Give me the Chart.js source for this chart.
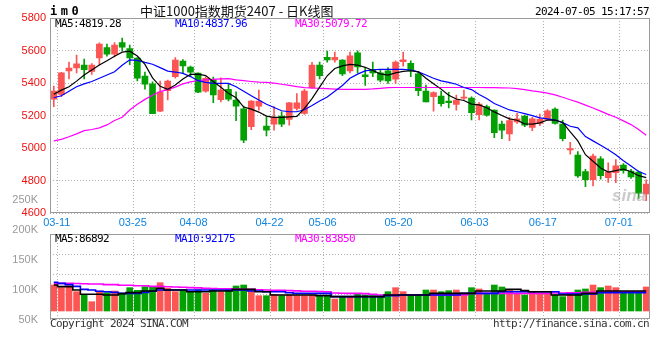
<!DOCTYPE html>
<html><head><meta charset="utf-8">
<script src="https://cdn.jsdelivr.net/npm/chart.js@4.4.1/dist/chart.umd.min.js"></script>
<style>
html,body{margin:0;padding:0;background:#fff;}
#wrap{position:relative;width:660px;height:360px;overflow:hidden;background:#fff;}
canvas{position:absolute;left:0;}
.t{position:absolute;white-space:nowrap;font-family:"DejaVu Sans Mono",monospace;font-size:11px;line-height:12px;letter-spacing:-0.62px;color:#000;}
</style></head><body>
<div id="wrap">
<canvas id="main" width="660" height="232" style="top:0;width:660px;height:232px"></canvas>
<canvas id="vol" width="660" height="150" style="top:190px;width:660px;height:150px"></canvas>
<div class="t" style="left:50px;top:4px;font:bold 12px/14px 'DejaVu Sans Mono',monospace;letter-spacing:3.5px">im0</div>
<div class="t" style="left:140px;top:3px;font:13px/16px 'Noto Sans CJK SC',sans-serif;letter-spacing:0;color:#111">中证1000指数期货2407 - 日K线图</div>
<div class="t" style="right:11px;top:6px">2024-07-05 15:17:57</div>
<div class="t" style="left:55px;top:18px;color:#000">MA5:4819.28</div>
<div class="t" style="left:175px;top:18px;color:#0000ff">MA10:4837.96</div>
<div class="t" style="left:295px;top:18px;color:#ff00ff">MA30:5079.72</div>
<div class="t" style="left:55px;top:233px;color:#000">MA5:86892</div>
<div class="t" style="left:175px;top:233px;color:#0000ff">MA10:92175</div>
<div class="t" style="left:295px;top:233px;color:#ff00ff">MA30:83850</div>
<div class="t" style="left:50px;top:318px;color:#333">Copyright 2024 SINA.COM</div>
<div class="t" style="right:11px;top:318px;color:#333">http://finance.sina.com.cn</div>
<div class="t" style="left:612px;top:187px;font:italic bold 17px/18px 'Liberation Sans',sans-serif;letter-spacing:0;color:rgba(150,150,150,0.5)">sina</div>
</div>
<script>
// ---- data ----
const dates = ['03-11','03-12','03-13','03-14','03-15','03-18','03-19','03-20','03-21','03-22',
'03-25','03-26','03-27','03-28','03-29','04-01','04-02','04-03','04-08','04-09',
'04-10','04-11','04-12','04-15','04-16','04-17','04-18','04-19','04-22','04-23',
'04-24','04-25','04-26','04-29','04-30','05-06','05-07','05-08','05-09','05-10',
'05-13','05-14','05-15','05-16','05-17','05-20','05-21','05-22','05-23','05-24',
'05-27','05-28','05-29','05-30','05-31','06-03','06-04','06-05','06-06','06-07',
'06-11','06-12','06-13','06-14','06-17','06-18','06-19','06-20','06-21','06-24',
'06-25','06-26','06-27','06-28','07-01','07-02','07-03','07-04','07-05'];
const tickDates = ['03-11','03-25','04-08','04-22','05-06','05-20','06-03','06-17','07-01'];
const priceTicks = [4600,4800,5000,5200,5400,5600,5800];
const volTicks = [50000,100000,150000,200000,250000];

const opens = [5302,5330,5475,5494,5510,5471,5555,5619,5578,5649,
5612,5553,5443,5396,5228,5353,5439,5535,5498,5461,
5351,5422,5298,5361,5295,5242,5132,5259,5136,5148,
5197,5177,5244,5214,5371,5510,5559,5543,5541,5475,
5586,5451,5484,5463,5475,5424,5531,5522,5457,5351,
5316,5320,5289,5269,5308,5308,5206,5255,5234,5148,
5087,5161,5197,5128,5152,5177,5240,5148,4989,4958,
4856,4807,4934,4819,4850,4897,4860,4854,4719];
const highs = [5381,5466,5529,5572,5547,5520,5647,5639,5649,5676,
5633,5557,5467,5408,5412,5418,5557,5545,5504,5463,
5439,5437,5433,5394,5347,5259,5293,5357,5193,5255,
5224,5282,5336,5361,5527,5529,5596,5590,5545,5590,
5598,5490,5529,5480,5496,5537,5590,5537,5469,5388,
5347,5351,5343,5326,5357,5316,5281,5265,5236,5167,
5189,5214,5203,5189,5210,5238,5248,5173,5036,4979,
4870,4964,4948,4910,4930,4905,4870,4860,4805];
const lows = [5255,5316,5426,5463,5426,5453,5512,5565,5561,5598,
5514,5414,5363,5212,5224,5296,5430,5459,5439,5341,
5345,5279,5285,5291,5169,5034,5114,5234,5075,5111,
5132,5142,5234,5208,5367,5426,5529,5529,5445,5463,
5463,5385,5439,5408,5398,5398,5504,5439,5322,5285,
5228,5259,5248,5234,5300,5173,5173,5197,5064,5058,
5046,5152,5132,5107,5138,5173,5148,5044,4964,4821,
4764,4768,4809,4790,4788,4846,4815,4692,4678];
const closes = [5351,5463,5492,5518,5482,5510,5639,5578,5633,5621,
5555,5430,5394,5212,5345,5412,5541,5506,5467,5345,
5430,5328,5357,5302,5259,5050,5289,5289,5111,5189,
5148,5279,5279,5351,5510,5445,5543,5559,5457,5567,
5500,5439,5463,5418,5414,5529,5543,5475,5353,5285,
5341,5273,5279,5295,5314,5218,5271,5203,5095,5111,
5169,5181,5142,5181,5179,5230,5152,5058,4997,4829,
4807,4952,4831,4854,4891,4862,4823,4723,4780];

const ma5 = [5332,5357,5378,5412,5450,5480,5511,5537,5565,5590,
5596,5566,5515,5432,5380,5362,5388,5425,5454,5455,
5446,5410,5375,5337,5310,5253,5240,5222,5197,5190,
5190,5193,5196,5245,5305,5375,5445,5490,5506,5515,
5511,5497,5477,5457,5449,5463,5472,5476,5469,5430,
5396,5363,5325,5302,5293,5271,5266,5249,5223,5201,
5180,5172,5150,5148,5156,5173,5173,5158,5100,5045,
4960,4920,4878,4853,4862,4872,4855,4831,4819];
const ma10 = [5310,5322,5350,5378,5395,5410,5430,5450,5470,5510,
5543,5540,5527,5516,5495,5474,5468,5460,5440,5415,
5405,5398,5398,5398,5378,5350,5322,5296,5270,5250,
5230,5224,5224,5236,5262,5290,5315,5350,5385,5430,
5455,5475,5482,5484,5484,5484,5484,5480,5469,5450,
5430,5414,5404,5393,5373,5360,5330,5305,5275,5255,
5235,5224,5212,5200,5186,5180,5173,5157,5135,5125,
5071,5045,5018,4990,4960,4923,4890,4857,4838];
const ma30 = [5045,5054,5070,5088,5108,5115,5125,5143,5170,5190,
5235,5270,5300,5325,5348,5360,5375,5395,5408,5416,
5420,5423,5426,5428,5420,5415,5410,5406,5404,5400,
5393,5386,5378,5372,5370,5368,5366,5363,5361,5361,
5361,5362,5364,5368,5372,5373,5373,5373,5373,5373,
5373,5373,5373,5373,5373,5373,5373,5372,5372,5371,
5370,5366,5360,5352,5346,5338,5328,5313,5298,5283,
5265,5247,5228,5208,5190,5168,5145,5115,5080];

const volumes = [108300,103900,106700,97200,91700,80500,98300,95500,98300,94500,
103900,99500,105500,105500,112200,102800,97200,100000,97200,100000,
94500,100000,97200,100000,106700,108300,101200,90500,90500,92800,
90500,91700,90500,90500,91700,90500,90500,85000,88900,88900,
94400,91700,90600,90000,97200,103900,97200,91700,91700,100000,
100000,97200,98900,100000,94400,103900,101700,93300,108300,105000,
101100,93300,91700,97200,93300,93300,91700,88900,94400,100000,
101700,108300,103900,106700,103900,97200,97200,97200,105000];
const volMa5 = [108300,105600,105600,100000,93000,92800,92800,91700,91700,94000,
95600,95600,98300,98300,102800,100000,100000,100000,97200,97200,
97200,98300,98300,98300,101000,101000,101000,97200,97200,91700,
91700,91700,91700,91700,91700,90600,90600,88900,88900,88900,
88900,88900,88900,88900,91700,91700,91700,91700,91700,91700,
94400,94400,94400,94400,94400,94400,98300,98300,98300,98300,
101000,101000,99000,97200,97200,97200,91700,91700,91700,91700,
94400,94400,98300,98300,98300,98300,98300,98300,98300];
const volMa10 = [113000,111000,109000,106000,101000,100000,98000,97000,96000,94400,
94400,94400,96000,98000,100000,100000,100000,100000,100000,100000,
100000,100000,100000,100000,100000,100000,98300,98300,97200,97200,
97200,95500,94400,94400,94400,94400,94400,88900,88900,88900,
88900,88900,88900,88900,90600,90600,91700,91700,91700,91700,
91700,91700,91700,91700,94400,94400,94400,94400,94400,97200,
97200,97200,97200,97200,97200,97200,97200,93300,93300,93300,
93300,93300,95600,95600,95600,95600,95600,95600,95600];
const volMa30 = [111000,111000,111000,110800,110500,110000,110000,109000,109000,108000,
108000,107000,107000,106000,106000,105500,105000,104500,104000,103500,
103000,102500,102000,102000,101500,101000,101000,100500,100000,99500,
99500,99000,98500,98000,98000,97500,97000,95000,94500,94400,
94400,94000,93000,91700,91700,91700,91700,91700,91700,91700,
91700,91700,91700,91700,91700,94400,94400,94400,94400,94400,
94400,94400,94400,94400,94400,94400,95000,95000,95500,95500,
96000,96000,96000,96500,96500,97000,97000,97000,97000];

// ---- styles ----
const UP = '#fd5454', DOWN = '#03a003';
const GRID = '#b0b0b0', FRAME = '#9a9a9a';
const candleColors = closes.map((c, i) => c >= opens[i] ? UP : DOWN);
const tickSet = new Set(tickDates);
const xGridColor = ctx => (ctx.index >= 1 && tickSet.has(dates[ctx.index - 1])) ? GRID : 'rgba(0,0,0,0)';
const labelFont = {family: "'Liberation Sans', Arial, sans-serif", size: 11};

const framePlugin = {
  id: 'frame',
  afterDatasetsDraw(chart) {
    const {ctx, chartArea: a} = chart;
    ctx.save();
    ctx.strokeStyle = FRAME; ctx.lineWidth = 1;
    ctx.strokeRect(Math.round(a.left) + 0.5, Math.round(a.top) + 0.5,
      Math.round(a.right - a.left) - 1, Math.round(a.bottom - a.top) - 1);
    ctx.restore();
  }
};

const lineDs = (label, data, color, extra) => Object.assign({
  type: 'line', label, data, borderColor: color, backgroundColor: color,
  borderWidth: 1.2, pointRadius: 0, tension: 0, fill: false
}, extra || {});

new Chart(document.getElementById('main'), {
  type: 'bar',
  data: {
    labels: dates,
    datasets: [
      lineDs('MA5', ma5, '#000000'),
      lineDs('MA10', ma10, '#0000ff'),
      lineDs('MA30', ma30, '#ff00ff'),
      {label: 'body', data: opens.map((o, i) => [o, closes[i]]), backgroundColor: candleColors,
       barThickness: 6, grouped: false, minBarLength: 1},
      {label: 'wick', data: lows.map((l, i) => [l, highs[i]]), backgroundColor: candleColors,
       barThickness: 1, grouped: false}
    ]
  },
  options: {
    responsive: false, animation: false, devicePixelRatio: 1,
    layout: {padding: {top: 18, right: 10, left: 0, bottom: 0}},
    plugins: {legend: {display: false}, tooltip: {enabled: false}},
    scales: {
      x: {
        offset: true,
        grid: {offset: true, color: xGridColor, drawTicks: false, lineWidth: 1},
        border: {display: false, dash: [1, 2]},
        ticks: {autoSkip: false, maxRotation: 0, minRotation: 0, padding: 3, labelOffset: 3,
          color: '#0f84e0', font: labelFont,
          callback: (v, i) => tickSet.has(dates[i]) ? dates[i] : ''},
        afterFit: s => { s.height = 18.7; }
      },
      y: {
        min: 4600, max: 5800,
        afterBuildTicks: s => { s.ticks = priceTicks.map(v => ({value: v})); },
        grid: {color: GRID, drawTicks: false},
        border: {display: false, dash: [1, 2]},
        ticks: {autoSkip: false, color: '#ee1111', padding: 4, font: labelFont,
          callback: v => String(v)},
        afterFit: s => { s.width = 50; }
      }
    }
  },
  plugins: [framePlugin]
});

new Chart(document.getElementById('vol'), {
  type: 'bar',
  data: {
    labels: dates,
    datasets: [
      lineDs('MA5', volMa5, '#000000', {stepped: 'middle', borderWidth: 1.6, yAxisID: 'y'}),
      lineDs('MA10', volMa10, '#0000ff', {stepped: 'middle', borderWidth: 1.6, yAxisID: 'y'}),
      lineDs('MA30', volMa30, '#ff00ff', {stepped: 'middle', borderWidth: 1.6, yAxisID: 'y'}),
      {label: 'vol', data: volumes, backgroundColor: candleColors, barThickness: 6,
       grouped: false, base: 65000, yAxisID: 'y'}
    ]
  },
  options: {
    responsive: false, animation: false, devicePixelRatio: 1,
    layout: {padding: {top: 44, right: 10, left: 0, bottom: 21}},
    plugins: {legend: {display: false}, tooltip: {enabled: false}},
    scales: {
      x: {
        offset: true,
        grid: {offset: true, color: xGridColor, drawTicks: false},
        border: {display: false, dash: [1, 2]},
        ticks: {display: false, autoSkip: false},
        afterFit: s => { s.height = 0; }
      },
      y: {
        min: 51667, max: 193333,
        afterBuildTicks: s => { s.ticks = volTicks.map(v => ({value: v})); },
        grid: {display: false},
        border: {display: false},
        ticks: {autoSkip: false, color: '#999999', padding: 4, font: labelFont,
          callback: v => (v / 1000) + 'K'},
        afterFit: s => { s.width = 50; }
      },
      y2: {
        position: 'right', reverse: true, min: 0, max: 4.25,
        ticks: {display: false, stepSize: 1},
        grid: {color: GRID, drawTicks: false},
        border: {display: false, dash: [1, 2]},
        afterFit: s => { s.width = 0; }
      }
    }
  },
  plugins: [framePlugin]
});
</script>
</body></html>
